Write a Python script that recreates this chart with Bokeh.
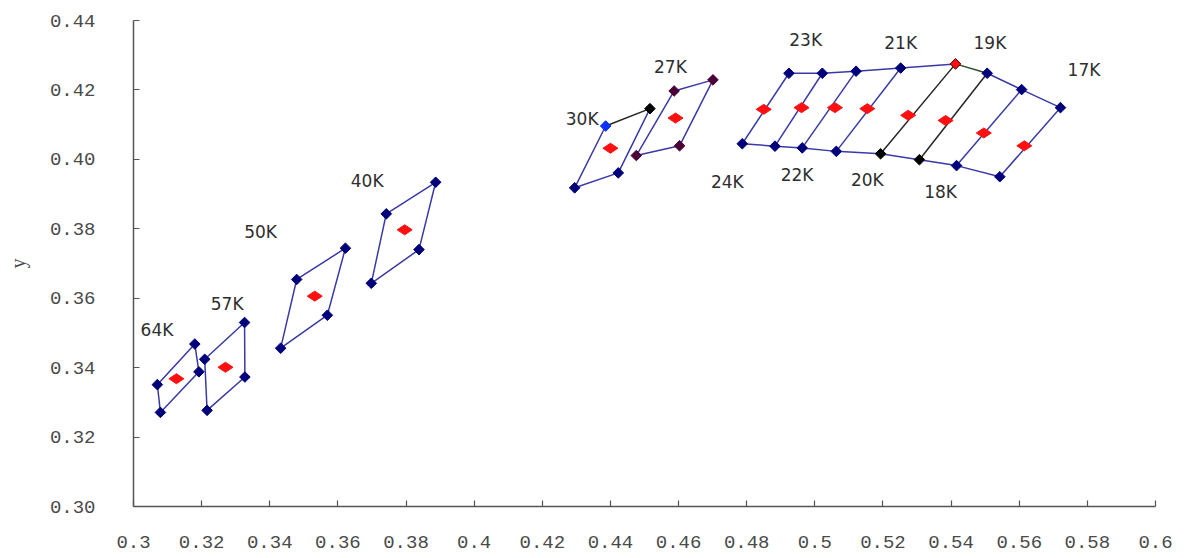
import math
from bokeh.plotting import figure
from bokeh.models import FixedTicker, ColumnDataSource
from bokeh.core.properties import value
from bokeh.embed import file_html
from bokeh.resources import INLINE

# ---- data ----
# left/middle clusters: parallelogram vertices (TL, TR, BR, BL)
g64_x = [0.3070, 0.3180, 0.3192, 0.3079]
g64_y = [0.3351, 0.3468, 0.3388, 0.3271]
g57_x = [0.3209, 0.3326, 0.3327, 0.3216]
g57_y = [0.3424, 0.3530, 0.3373, 0.3277]
g50_x = [0.3479, 0.3622, 0.3569, 0.3432]
g50_y = [0.3654, 0.3744, 0.3551, 0.3456]
g40_x = [0.3742, 0.3887, 0.3838, 0.3698]
g40_y = [0.3843, 0.3934, 0.3740, 0.3643]
g30_x = [0.4386, 0.4516, 0.4423, 0.4295]
g30_y = [0.4096, 0.4146, 0.3961, 0.3918]
g27_x = [0.4587, 0.4701, 0.4603, 0.4476]
g27_y = [0.4197, 0.4229, 0.4039, 0.4011]
centre_x = [0.3126, 0.3270, 0.3532, 0.3796, 0.4400, 0.4591]
centre_y = [0.3368, 0.3401, 0.3606, 0.3797, 0.4032, 0.4119]

# right cluster: isotherm end points (top / bottom) and locus points
top_x = [0.4924, 0.5022, 0.5121, 0.5252, 0.5413, 0.5506, 0.5607, 0.5721]
top_y = [0.4248, 0.4248, 0.4254, 0.4263, 0.4275, 0.4248, 0.4201, 0.4149]
bot_x = [0.4787, 0.4883, 0.4963, 0.5063, 0.5193, 0.5307, 0.5416, 0.5543]
bot_y = [0.4045, 0.4038, 0.4033, 0.4023, 0.4016, 0.3999, 0.3982, 0.3950]
red_x = [0.4850, 0.4961, 0.5059, 0.5154, 0.5274, 0.5384, 0.5496, 0.5615]
red_y = [0.4144, 0.4149, 0.4149, 0.4146, 0.4127, 0.4112, 0.4076, 0.4039]

label_text = ["64K", "57K", "50K", "40K", "30K", "27K", "24K", "23K",
              "22K", "21K", "20K", "19K", "18K", "17K"]
label_x = [0.3069, 0.3275, 0.3373, 0.3686, 0.4317, 0.4576, 0.4743, 0.4973,
           0.4948, 0.5252, 0.5154, 0.5514, 0.5369, 0.5790]
label_y = [0.3507, 0.3582, 0.3790, 0.3939, 0.4116, 0.4266, 0.3934, 0.4345,
           0.3954, 0.4335, 0.3941, 0.4335, 0.3906, 0.4256]

x_ticks = [0.30, 0.32, 0.34, 0.36, 0.38, 0.40, 0.42, 0.44, 0.46, 0.48,
           0.50, 0.52, 0.54, 0.56, 0.58, 0.60]
x_tick_labels = ["0.3", "0.32", "0.34", "0.36", "0.38", "0.4", "0.42", "0.44",
                 "0.46", "0.48", "0.5", "0.52", "0.54", "0.56", "0.58", "0.6"]
y_ticks = [0.30, 0.32, 0.34, 0.36, 0.38, 0.40, 0.42, 0.44]
y_tick_labels = ["0.30", "0.32", "0.34", "0.36", "0.38", "0.40", "0.42", "0.44"]

# ---- styles ----
LINE = "#3a3aa6"
DARK = "#262626"
NAVY = "#00007a"
RED = "#ff1010"

p = figure(width=1178, height=558, output_backend="svg", toolbar_location=None,
           x_range=(0.30, 0.60), y_range=(0.30, 0.44),
           min_border_left=133, min_border_right=23,
           min_border_top=20, min_border_bottom=52)
p.outline_line_color = None
p.grid.grid_line_color = None
p.background_fill_color = "white"

# parallelograms
for gx, gy in [(g64_x, g64_y), (g57_x, g57_y), (g50_x, g50_y), (g40_x, g40_y)]:
    p.line(gx + gx[:1], gy + gy[:1], line_color=LINE, line_width=1.5)

# 30K: top edge dark
p.line([g30_x[1], g30_x[2], g30_x[3], g30_x[0]],
       [g30_y[1], g30_y[2], g30_y[3], g30_y[0]], line_color=LINE, line_width=1.5)
p.line(g30_x[0:2], g30_y[0:2], line_color=DARK, line_width=1.5)
# 27K
p.line(g27_x + g27_x[:1], g27_y + g27_y[:1], line_color=LINE, line_width=1.5)

# right cluster
p.line(top_x[:5], top_y[:5], line_color=LINE, line_width=1.5)
p.line(top_x[4:6], top_y[4:6], line_color="#2a4a2a", line_width=1.5)
p.line(top_x[5:], top_y[5:], line_color=LINE, line_width=1.5)
p.line(bot_x, bot_y, line_color=LINE, line_width=1.5)
iso_colors = [LINE, LINE, LINE, LINE, DARK, DARK, LINE, LINE]
p.multi_line([[bot_x[i], top_x[i]] for i in range(len(top_x))],
             [[bot_y[i], top_y[i]] for i in range(len(top_y))],
             line_color=iso_colors, line_width=1.5)

# vertex markers
def pts(xs, ys, colors, line_colors=None):
    p.scatter(xs, ys, marker="square", size=7.5, angle=math.pi / 4,
              fill_color=colors, line_color=line_colors or colors)

for gx, gy in [(g64_x, g64_y), (g57_x, g57_y), (g50_x, g50_y), (g40_x, g40_y)]:
    pts(gx, gy, [NAVY] * 4)
pts(g30_x, g30_y, ["#1030ff", "#000000", NAVY, NAVY])
pts(g27_x, g27_y, ["#4a0035"] * 4)
top_cols = [NAVY, NAVY, NAVY, NAVY, RED, NAVY, NAVY, NAVY]
top_lines = [NAVY, NAVY, NAVY, NAVY, "#400000", NAVY, NAVY, NAVY]
pts(top_x, top_y, top_cols, top_lines)
pts(bot_x, bot_y, [NAVY, NAVY, NAVY, NAVY, "#000000", "#000000", NAVY, NAVY])

# locus (red) points
p.scatter(centre_x, centre_y, marker="diamond", size=15, angle=math.pi / 2,
          fill_color=RED, line_color=RED)
p.scatter(red_x, red_y, marker="diamond", size=15, angle=math.pi / 2,
          fill_color=RED, line_color=RED)

# labels
src = ColumnDataSource(dict(x=label_x, y=label_y, t=label_text))
p.text("x", "y", text="t", source=src, text_align="center", text_baseline="middle",
       text_font=value("DejaVu Sans"), text_font_size="17px", text_color="#2e2e2e")

# axes
for ax in (p.xaxis, p.yaxis):
    ax.axis_line_color = "#555555"
    ax.axis_line_width = 1.5
    ax.major_tick_line_color = "#555555"
    ax.major_tick_line_width = 1.2
    ax.major_tick_in = 6
    ax.major_tick_out = 0
    ax.minor_tick_line_color = None
    ax.major_label_text_font = "Liberation Mono"
    ax.major_label_text_font_size = "19px"
    ax.major_label_text_color = "#4a4a4a"

p.xaxis.ticker = FixedTicker(ticks=x_ticks)
p.xaxis.major_label_overrides = {t: s for t, s in zip(x_ticks, x_tick_labels)}
p.xaxis.major_label_standoff = 29
p.yaxis.ticker = FixedTicker(ticks=y_ticks)
p.yaxis.major_label_overrides = {t: s for t, s in zip(y_ticks, y_tick_labels)}
p.yaxis.major_label_standoff = 38
p.yaxis.axis_label = "y"
p.yaxis.axis_label_standoff = 18
p.yaxis.axis_label_text_font = "Liberation Serif"
p.yaxis.axis_label_text_font_style = "normal"
p.yaxis.axis_label_text_font_size = "20px"
p.yaxis.axis_label_text_color = "#4a4a4a"

open("out.html", "w").write(file_html(p, INLINE))
